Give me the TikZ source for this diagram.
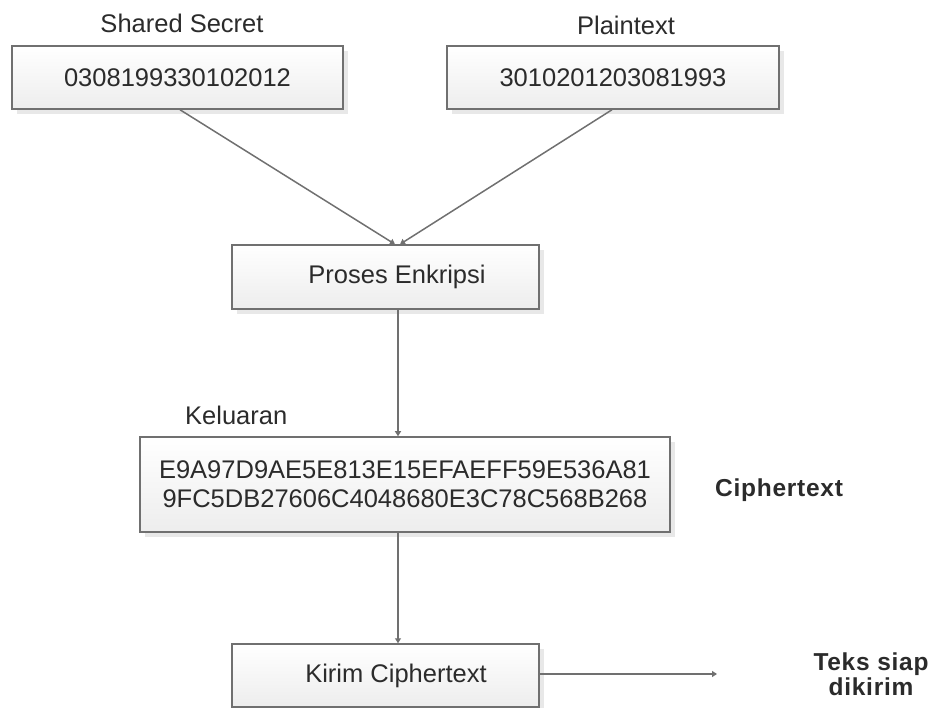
\documentclass[tikz,border=0pt]{standalone}
\usepackage{fontspec}
\setmainfont{Liberation Sans}
\usetikzlibrary{arrows.meta,shadows,positioning}
\definecolor{edge}{HTML}{707070}
\definecolor{txt}{HTML}{2B2B2B}
\definecolor{botfill}{HTML}{EDEDED}
\definecolor{shad}{HTML}{E8E8E8}
\tikzset{
  box/.style={draw=edge, line width=1.5pt, top color=white, bottom color=botfill,
    drop shadow={shadow xshift=5pt, shadow yshift=-5pt, fill=shad, opacity=1},
    inner sep=0pt, font=\fontsize{25.5}{29}\selectfont, text=txt, align=center},
  lbl/.style={font=\fontsize{25.5}{29}\selectfont, text=txt, inner sep=0pt},
  blbl/.style={font=\fontsize{24.5}{25}\selectfont\bfseries\addfontfeature{LetterSpace=3}, text=txt, inner sep=0pt, align=center},
  conn/.style={draw=edge, line width=1.5pt, -{Triangle[width=6pt,length=5pt]}}
}
\begin{document}
\begin{tikzpicture}[x=1pt,y=-1pt]
\useasboundingbox (0,0) rectangle (932,708);
\node[box, minimum width=331pt, minimum height=63pt] (b1) at (177.5,77.5) {0308199330102012};
\node[box, minimum width=332pt, minimum height=63pt] (b2) at (613,77.5) {3010201203081993};
\node[lbl] (l1) at (182,23) {Shared Secret};
\node[lbl] (l2) at (626,25) {Plaintext};
\node[box, minimum width=307pt, minimum height=64pt] (pe) at (385.5,277) {\hspace*{23pt}Proses Enkripsi};
\node[box, minimum width=530pt, minimum height=95pt] (ke) at (405,484.5) {E9A97D9AE5E813E15EFAEFF59E536A81\\9FC5DB27606C4048680E3C78C568B268};
\node[lbl, anchor=west] (l3) at (185,415) {Keluaran};
\node[blbl, anchor=west] (l4) at (715,490) {Ciphertext};
\node[box, minimum width=307pt, minimum height=63pt] (ki) at (385.5,675.5) {\hspace*{21pt}Kirim Ciphertext};
\node[blbl] (l5) at (871,674) {Teks siap\\dikirim};
\coordinate (out) at (717,674);
\draw[conn] ([xshift=2.5pt]b1.south) -- ([xshift=9.5pt]pe.north);
\draw[conn] ([xshift=-1pt]b2.south) -- ([xshift=14.5pt]pe.north);
\draw[conn] ([xshift=12.5pt]pe.south) -- ([xshift=-7pt]ke.north);
\draw[conn] ([xshift=-7pt]ke.south) -- ([xshift=12.5pt]ki.north);
\draw[conn] (ki.east |- out) -- (out);
\end{tikzpicture}
\end{document}
